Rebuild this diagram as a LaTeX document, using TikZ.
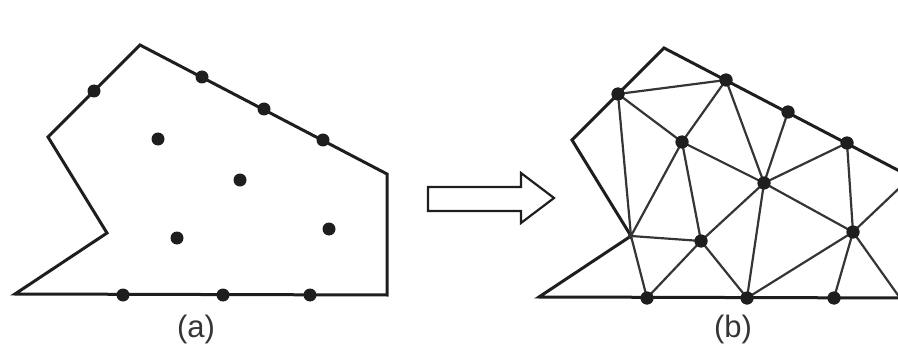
\documentclass[tikz,border=0pt]{standalone}
\usepackage{fontspec}
\setmainfont{Liberation Sans}
\usepackage{xcolor}
\definecolor{meshink}{HTML}{1E1E1E}
\usepackage{tikz}
\usetikzlibrary{positioning,calc}
\tikzset{
  meshdot/.style={circle,fill=meshink,draw=none,inner sep=0pt,minimum size=13pt},
  outline/.style={draw=meshink,line width=3pt,line join=miter},
  meshedge/.style={draw=meshink!90,line width=2.2pt,shorten <=-3pt,shorten >=-3pt},
  blockarrow/.style={draw=meshink,line width=2.2pt,fill=white},
  caplabel/.style={font=\fontsize{31}{35}\selectfont,text=meshink!90,inner sep=0pt},
}

\begin{document}
\begin{tikzpicture}[x=1pt,y=-1pt]
  \useasboundingbox (0,0) rectangle (898,353);
  \clip (0,0) rectangle (898,353);
  % the same domain twice: (a) points only, (b) shifted and meshed
  \foreach \s/\dx/\dy in {a/0/0,b/524/3}{
    \begin{scope}[shift={(\dx,\dy)}]
      \coordinate (\s T) at (140,45);
      \coordinate (\s L) at (48,137);
      \coordinate (\s N) at (107,233);
      \coordinate (\s BL) at (15,294);
      \coordinate (\s BR) at (387,295);
      \coordinate (\s R) at (387,174);
      \coordinate (\s S) at (376,295);
      \draw[outline] (\s T) -- (\s R) -- (\s BR) -- (\s BL) -- (\s N) -- (\s L) -- cycle;
      \node[meshdot] (\s1) at (94,91) {};
      \node[meshdot] (\s2) at (202,77) {};
      \node[meshdot] (\s3) at (264,109) {};
      \node[meshdot] (\s4) at (323,140) {};
      \node[meshdot] (\s5) at (123,295) {};
      \node[meshdot] (\s6) at (223,295) {};
      \node[meshdot] (\s7) at (310,295) {};
      \node[meshdot] (\s8) at (158,139) {};
      \node[meshdot] (\s9) at (240,180) {};
      \node[meshdot] (\s10) at (177,238) {};
      \node[meshdot] (\s11) at (329,229) {};
    \end{scope}
  }
  % triangulation of (b)
  \draw[meshedge] (b1) -- (b2);
  \draw[meshedge] (b1) -- (b8);
  \draw[meshedge] (b1) -- (bN);
  \draw[meshedge] (b2) -- (b8);
  \draw[meshedge] (b2) -- (b9);
  \draw[meshedge] (b3) -- (b9);
  \draw[meshedge] (b4) -- (b9);
  \draw[meshedge] (b4) -- (b11);
  \draw[meshedge] (b8) -- (b9);
  \draw[meshedge] (b8) -- (bN);
  \draw[meshedge] (b8) -- (b10);
  \draw[meshedge] (bN) -- (b10);
  \draw[meshedge] (bN) -- (b5);
  \draw[meshedge] (b10) -- (b5);
  \draw[meshedge] (b10) -- (b9);
  \draw[meshedge] (b10) -- (b6);
  \draw[meshedge] (b9) -- (b6);
  \draw[meshedge] (b9) -- (b11);
  \draw[meshedge] (b11) -- (b6);
  \draw[meshedge] (b11) -- (b7);
  \draw[meshedge] (b11) -- (bS);
  \draw[meshedge] (b11) -- (bR);
  % redraw dots over the edges
  \foreach \n in {1,...,11}{\fill[meshink] (b\n) circle (6.5pt);}
  % block arrow between the panels
  \draw[blockarrow] (428,187) -- (521,187) -- (521,173) -- (554,198)
    -- (521,223) -- (521,211) -- (428,211) -- cycle;
  \node[caplabel] (capa) at (196,329) {(a)};
  \node[caplabel] (capb) at (733,329) {(b)};
\end{tikzpicture}
\end{document}
